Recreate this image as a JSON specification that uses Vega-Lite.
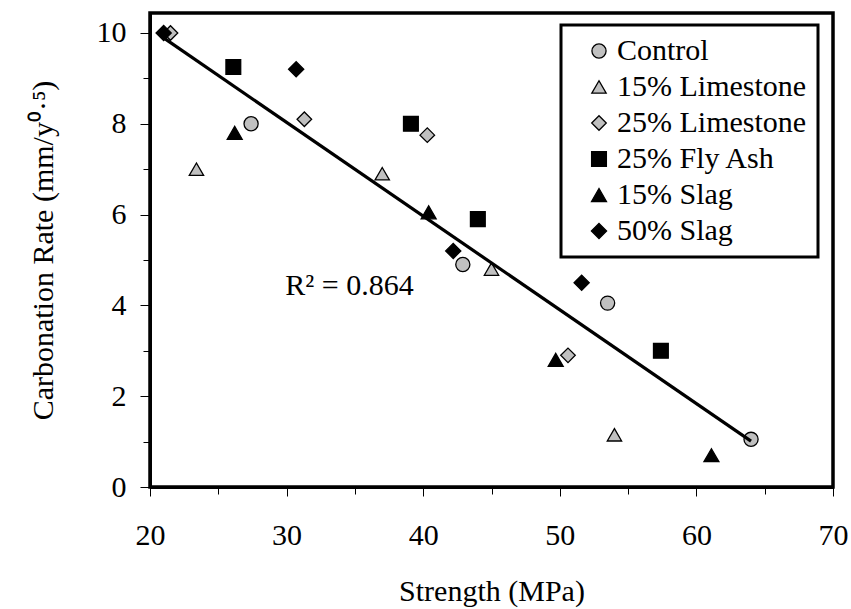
{
  "$schema": "https://vega.github.io/schema/vega-lite/v6.json",
  "width": 683,
  "height": 474,
  "autosize": {"type": "none"},
  "padding": {"left": 150, "top": 13, "right": 18, "bottom": 122},
  "background": "white",
  "data": {
    "values": [
      {"series": "Control", "strength": 27.4, "rate": 8.0},
      {"series": "Control", "strength": 42.9, "rate": 4.9},
      {"series": "Control", "strength": 53.5, "rate": 4.05},
      {"series": "Control", "strength": 64.0, "rate": 1.05},
      {"series": "15% Limestone", "strength": 23.4, "rate": 7.0},
      {"series": "15% Limestone", "strength": 37.0, "rate": 6.9},
      {"series": "15% Limestone", "strength": 45.0, "rate": 4.8},
      {"series": "15% Limestone", "strength": 54.0, "rate": 1.15},
      {"series": "25% Limestone", "strength": 21.5, "rate": 10.0},
      {"series": "25% Limestone", "strength": 31.3, "rate": 8.1},
      {"series": "25% Limestone", "strength": 40.3, "rate": 7.75},
      {"series": "25% Limestone", "strength": 50.6, "rate": 2.9},
      {"series": "25% Fly Ash", "strength": 26.1, "rate": 9.25},
      {"series": "25% Fly Ash", "strength": 39.1, "rate": 8.0},
      {"series": "25% Fly Ash", "strength": 44.0, "rate": 5.9},
      {"series": "25% Fly Ash", "strength": 57.4, "rate": 3.0},
      {"series": "15% Slag", "strength": 26.2, "rate": 7.8},
      {"series": "15% Slag", "strength": 40.4, "rate": 6.05},
      {"series": "15% Slag", "strength": 49.7, "rate": 2.8},
      {"series": "15% Slag", "strength": 61.1, "rate": 0.7},
      {"series": "50% Slag", "strength": 21.0, "rate": 10.0},
      {"series": "50% Slag", "strength": 30.7, "rate": 9.2},
      {"series": "50% Slag", "strength": 42.2, "rate": 5.2},
      {"series": "50% Slag", "strength": 51.6, "rate": 4.5}
    ]
  },
  "resolve": {"axis": {"x": "independent", "y": "independent"}},
  "layer": [
    {
      "mark": {"type": "point", "filled": true, "stroke": "black", "strokeWidth": 1.3, "opacity": 1},
      "encoding": {
        "x": {
          "field": "strength", "type": "quantitative",
          "scale": {"domain": [20, 70], "nice": false, "zero": false},
          "axis": {"title": "Strength (MPa)", "values": [20, 30, 40, 50, 60, 70], "tickSize": 9, "labelPadding": 24, "titlePadding": 26, "orient": "bottom", "labelFont": "Liberation Serif", "titleFont": "Liberation Serif"}
        },
        "y": {
          "field": "rate", "type": "quantitative",
          "scale": {"domain": [0, 10.44], "nice": false},
          "axis": {"title": "Carbonation Rate (mm/y⁰·⁵)", "values": [0, 2, 4, 6, 8, 10], "tickSize": 10, "labelPadding": 14, "titlePadding": 38, "orient": "left", "labelFont": "Liberation Serif", "titleFont": "Liberation Serif"}
        },
        "shape": {
          "field": "series", "type": "nominal",
          "scale": {
            "domain": ["Control", "15% Limestone", "25% Limestone", "25% Fly Ash", "15% Slag", "50% Slag"],
            "range": ["circle", "triangle-up", "diamond", "square", "triangle-up", "diamond"]
          },
          "legend": {
            "title": null, "orient": "none", "legendX": 411, "legendY": 12,
            "strokeColor": "black", "fillColor": "white", "padding": 11,
            "symbolOffset": 12, "labelOffset": 3, "rowPadding": 6,
            "symbolStrokeColor": "black", "symbolStrokeWidth": 1.3,
            "labelFont": "Liberation Serif", "labelFontSize": 30, "labelColor": "black", "labelLimit": 400,
            "labelExpr": "datum.label + '\u00a0\u00a0\u00a0\u00a0\u00a0'"
          }
        },
        "fill": {
          "field": "series", "type": "nominal",
          "scale": {
            "domain": ["Control", "15% Limestone", "25% Limestone", "25% Fly Ash", "15% Slag", "50% Slag"],
            "range": ["#c0c0c0", "#c0c0c0", "#c0c0c0", "black", "black", "black"]
          }
        },
        "size": {
          "field": "series", "type": "nominal",
          "scale": {
            "domain": ["Control", "15% Limestone", "25% Limestone", "25% Fly Ash", "15% Slag", "50% Slag"],
            "range": [200, 230, 180, 105, 155, 125]
          }
        }
      }
    },
    {
      "transform": [{"regression": "rate", "on": "strength"}],
      "mark": {"type": "line", "color": "black", "strokeWidth": 3.2},
      "encoding": {
        "x": {
          "field": "strength", "type": "quantitative",
          "axis": {"title": null, "values": [25, 35, 45, 55, 65], "labels": false, "domain": false, "tickSize": 7, "orient": "bottom", "grid": false}
        },
        "y": {
          "field": "rate", "type": "quantitative",
          "axis": {"title": null, "values": [1, 3, 5, 7, 9], "labels": false, "domain": false, "tickSize": 7, "orient": "left", "grid": false}
        }
      }
    },
    {
      "data": {"values": [{"label": "R² = 0.864"}]},
      "mark": {"type": "text", "align": "left", "baseline": "alphabetic", "font": "Liberation Serif", "fontSize": 30, "color": "black"},
      "encoding": {
        "text": {"field": "label", "type": "nominal"},
        "x": {"datum": 29.9, "type": "quantitative", "axis": null},
        "y": {"datum": 4.23, "type": "quantitative", "axis": null}
      }
    }
  ],
  "config": {
    "view": {"stroke": "black", "strokeWidth": 3.5},
    "font": "Liberation Serif",
    "axis": {
      "grid": false,
      "domainColor": "black",
      "domainWidth": 3,
      "tickColor": "black",
      "tickWidth": 1,
      "labelFont": "Liberation Serif",
      "labelFontSize": 30,
      "labelColor": "black",
      "labelFlush": false,
      "labelOverlap": false,
      "titleFont": "Liberation Serif",
      "titleFontSize": 30,
      "titleFontWeight": "normal",
      "titleColor": "black"
    },
    "legend": {
      "labelFont": "Liberation Serif",
      "labelFontSize": 30,
      "labelColor": "black",
      "strokeWidth": 3,
      "labelLimit": 400
    }
  }
}
